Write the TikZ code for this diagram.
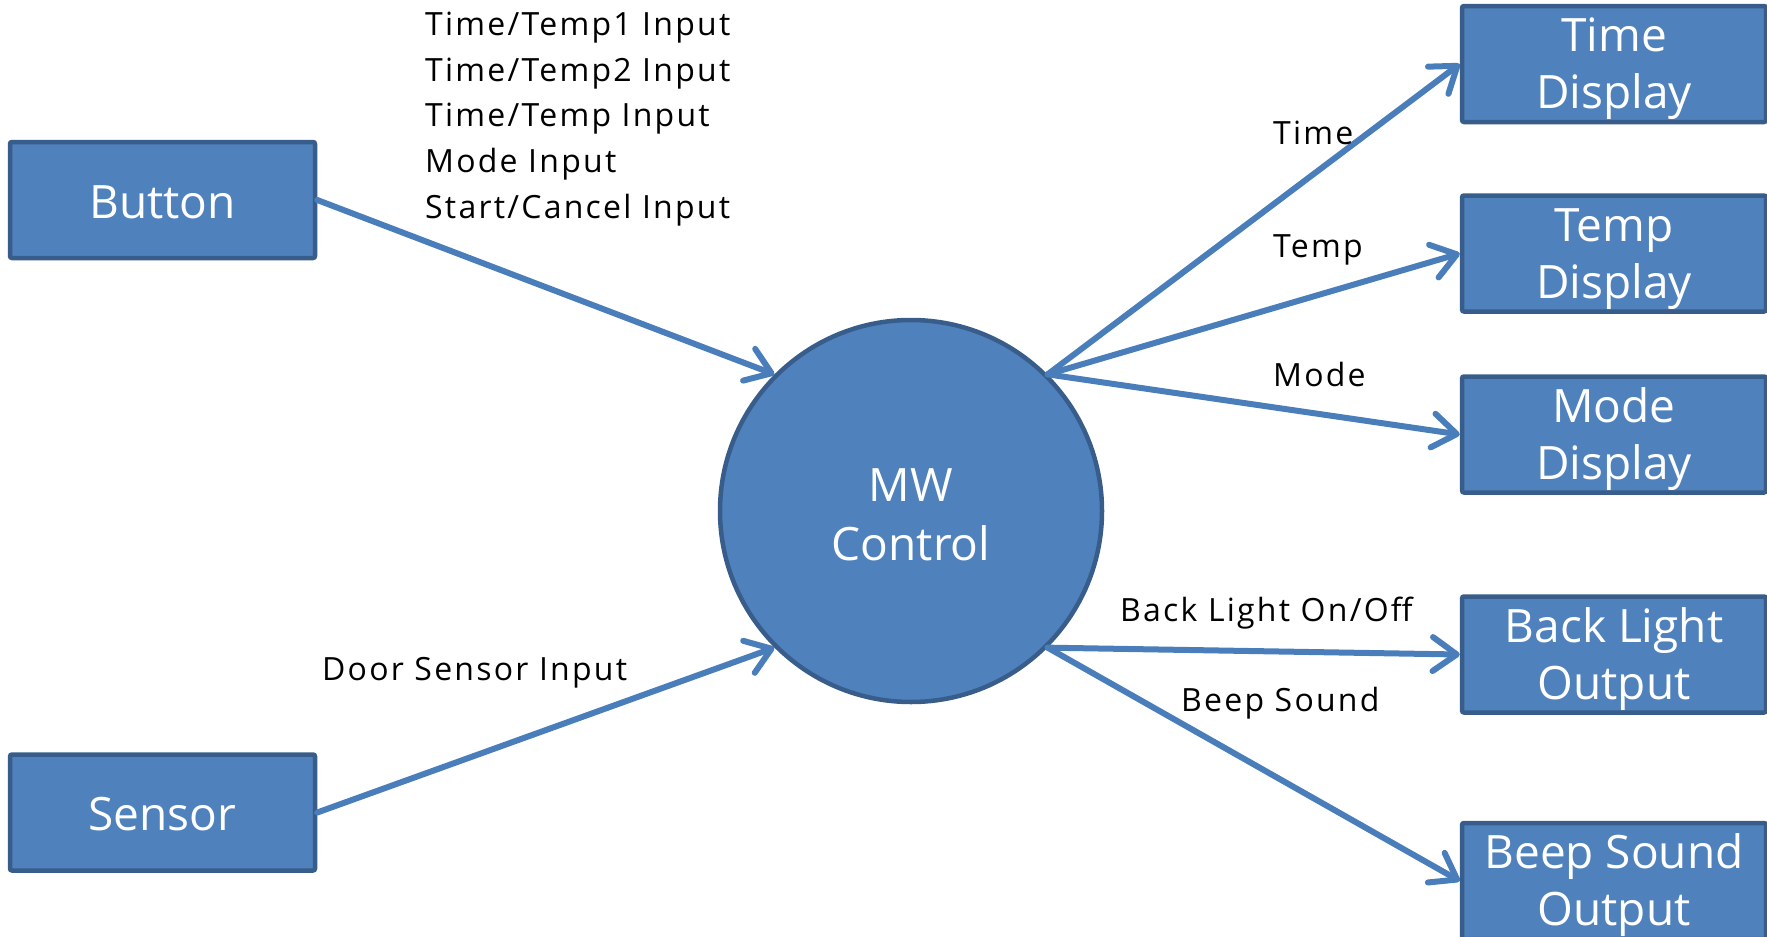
\documentclass[tikz,border=0pt]{standalone}
\usepackage{fontspec}
\setmainfont{Open Sans}
\newfontfamily\lblfont[LetterSpace=7]{Open Sans}
\usetikzlibrary{arrows.meta}
\definecolor{boxfill}{RGB}{79,129,189}
\definecolor{boxline}{RGB}{56,93,138}
\definecolor{arrowcol}{RGB}{74,126,187}
\newcommand\boxtext[2][-13pt]{\raisebox{#1}[0pt][0pt]{\begin{tabular}{@{}c@{}}#2\end{tabular}}}
\tikzset{
  blockbox/.style={rectangle, draw=boxline, fill=boxfill, line width=4.5pt, rounded corners=2pt,
    text=white, inner sep=0pt, font=\fontsize{46}{57}\selectfont},
  sidebox/.style={blockbox, minimum width=305pt, minimum height=116pt},
  outbox/.style={blockbox, minimum width=304pt, minimum height=116pt},
  ctrl/.style={circle, draw=boxline, fill=boxfill, line width=4.5pt, minimum size=382pt,
    inner sep=0pt, text=white, font=\fontsize{46}{59}\selectfont},
  flow/.style={draw=arrowcol, line width=6pt, line cap=round,
    -{Straight Barb[length=24pt,width=34pt,round]}},
  lbl/.style={text=black, inner sep=0pt, font=\lblfont\fontsize{32}{45.6}\selectfont, align=left}
}
\begin{document}
\begin{tikzpicture}[x=1pt,y=-1pt]
\useasboundingbox (0,0) rectangle (1767,937);
\node[sidebox] (button) at (162.5,200) {\boxtext{Button}};
\node[sidebox] (sensor) at (162.5,812.5) {\boxtext{Sensor}};
\node[ctrl] (mw) at (911,511) {\boxtext[-14pt]{MW\\Control}};
\node[outbox] (time) at (1614,64) {\boxtext[-11pt]{Time\\Display}};
\node[outbox] (temp) at (1614,253.5) {\boxtext[-11pt]{Temp\\Display}};
\node[outbox] (mode) at (1614,434.5) {\boxtext[-11pt]{Mode\\Display}};
\node[outbox] (back) at (1614,654.5) {\boxtext[-11pt]{Back Light\\Output}};
\node[outbox] (beep) at (1614,881) {\boxtext[-11pt]{Beep Sound\\Output}};

\draw[flow] (button.east) -- (mw.135);
\draw[flow] (sensor.east) -- (mw.-135);
\draw[flow] (mw.45) -- (time.west);
\draw[flow] (mw.45) -- (temp.west);
\draw[flow] (mw.45) -- (mode.west);
\draw[flow] (mw.-45) -- (back.west);
\draw[flow] (mw.-45) -- (beep.west);

\node[lbl, anchor=north west] (btnlbl) at (425,12) {Time/Temp1 Input\\Time/Temp2 Input\\Time/Temp Input\\Mode Input\\Start/Cancel Input};
\node[lbl, anchor=west] (doorlbl) at (322,673) {Door Sensor Input};
\node[lbl, anchor=west] (timelbl) at (1273,133) {Time};
\node[lbl, anchor=west] (templbl) at (1273,250) {Temp};
\node[lbl, anchor=west] (modelbl) at (1273,374) {Mode};
\node[lbl, anchor=west] (backlbl) at (1120,613) {Back Light On/Off};
\node[lbl, anchor=west] (beeplbl) at (1181,703) {Beep Sound};
\end{tikzpicture}
\end{document}
